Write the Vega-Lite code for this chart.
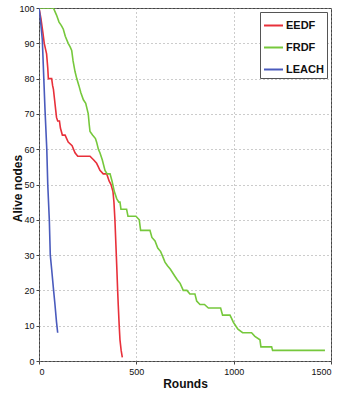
{
  "$schema": "https://vega.github.io/schema/vega-lite/v6.json",
  "autosize": "none",
  "padding": {"left": 39, "top": 8, "right": 7, "bottom": 34},
  "width": 292,
  "height": 353,
  "background": "white",
  "config": {
    "view": {"stroke": "#444", "strokeWidth": 1},
    "axis": {
      "grid": true,
      "gridDash": [1, 3],
      "gridColor": "#999",
      "gridOpacity": 1,
      "domain": false,
      "tickColor": "#444",
      "tickSize": 3,
      "labelFont": "Liberation Sans",
      "labelFontSize": 9,
      "labelColor": "#111",
      "titleFont": "Liberation Sans",
      "titleFontWeight": "bold",
      "titleFontSize": 12,
      "titleColor": "#111"
    },
    "legend": {
      "orient": "top-right",
      "offset": 4,
      "strokeColor": "#555",
      "fillColor": "white",
      "padding": 3,
      "symbolType": "stroke",
      "symbolSize": 360,
      "symbolStrokeWidth": 2,
      "labelFont": "Liberation Sans",
      "labelFontSize": 11,
      "labelFontWeight": "bold",
      "labelColor": "#111",
      "labelOffset": 2,
      "rowPadding": 6
    }
  },
  "data": {
    "values": [
      {"s": "EEDF", "r": 0, "n": 100}, {"s": "EEDF", "r": 10, "n": 97}, {"s": "EEDF", "r": 20, "n": 93},
      {"s": "EEDF", "r": 27, "n": 90}, {"s": "EEDF", "r": 35, "n": 88}, {"s": "EEDF", "r": 39, "n": 87},
      {"s": "EEDF", "r": 45, "n": 83}, {"s": "EEDF", "r": 48, "n": 80}, {"s": "EEDF", "r": 65, "n": 80},
      {"s": "EEDF", "r": 70, "n": 78}, {"s": "EEDF", "r": 74, "n": 77}, {"s": "EEDF", "r": 80, "n": 74},
      {"s": "EEDF", "r": 86, "n": 71}, {"s": "EEDF", "r": 90, "n": 69}, {"s": "EEDF", "r": 96, "n": 68},
      {"s": "EEDF", "r": 105, "n": 68}, {"s": "EEDF", "r": 110, "n": 66}, {"s": "EEDF", "r": 120, "n": 64},
      {"s": "EEDF", "r": 134, "n": 64}, {"s": "EEDF", "r": 150, "n": 62}, {"s": "EEDF", "r": 170, "n": 61},
      {"s": "EEDF", "r": 185, "n": 59}, {"s": "EEDF", "r": 199, "n": 58}, {"s": "EEDF", "r": 262, "n": 58},
      {"s": "EEDF", "r": 280, "n": 57}, {"s": "EEDF", "r": 296, "n": 56}, {"s": "EEDF", "r": 305, "n": 55},
      {"s": "EEDF", "r": 313, "n": 54}, {"s": "EEDF", "r": 330, "n": 53}, {"s": "EEDF", "r": 348, "n": 53},
      {"s": "EEDF", "r": 360, "n": 51}, {"s": "EEDF", "r": 370, "n": 50}, {"s": "EEDF", "r": 380, "n": 48},
      {"s": "EEDF", "r": 385, "n": 45}, {"s": "EEDF", "r": 390, "n": 40}, {"s": "EEDF", "r": 395, "n": 33},
      {"s": "EEDF", "r": 400, "n": 26}, {"s": "EEDF", "r": 404, "n": 20}, {"s": "EEDF", "r": 407, "n": 16},
      {"s": "EEDF", "r": 412, "n": 10}, {"s": "EEDF", "r": 416, "n": 6}, {"s": "EEDF", "r": 422, "n": 3},
      {"s": "EEDF", "r": 428, "n": 1},
      {"s": "FRDF", "r": 0, "n": 100}, {"s": "FRDF", "r": 74, "n": 100}, {"s": "FRDF", "r": 90, "n": 98},
      {"s": "FRDF", "r": 103, "n": 96}, {"s": "FRDF", "r": 115, "n": 95}, {"s": "FRDF", "r": 125, "n": 94},
      {"s": "FRDF", "r": 135, "n": 92}, {"s": "FRDF", "r": 150, "n": 90}, {"s": "FRDF", "r": 160, "n": 89},
      {"s": "FRDF", "r": 168, "n": 88}, {"s": "FRDF", "r": 175, "n": 85}, {"s": "FRDF", "r": 185, "n": 82},
      {"s": "FRDF", "r": 194, "n": 80}, {"s": "FRDF", "r": 205, "n": 78}, {"s": "FRDF", "r": 215, "n": 76},
      {"s": "FRDF", "r": 228, "n": 74}, {"s": "FRDF", "r": 240, "n": 73}, {"s": "FRDF", "r": 253, "n": 70},
      {"s": "FRDF", "r": 258, "n": 67}, {"s": "FRDF", "r": 262, "n": 65}, {"s": "FRDF", "r": 275, "n": 64},
      {"s": "FRDF", "r": 290, "n": 63}, {"s": "FRDF", "r": 296, "n": 62}, {"s": "FRDF", "r": 305, "n": 60},
      {"s": "FRDF", "r": 313, "n": 59}, {"s": "FRDF", "r": 325, "n": 57}, {"s": "FRDF", "r": 339, "n": 54},
      {"s": "FRDF", "r": 350, "n": 53}, {"s": "FRDF", "r": 365, "n": 53}, {"s": "FRDF", "r": 375, "n": 51},
      {"s": "FRDF", "r": 387, "n": 48}, {"s": "FRDF", "r": 399, "n": 46}, {"s": "FRDF", "r": 410, "n": 45},
      {"s": "FRDF", "r": 416, "n": 45}, {"s": "FRDF", "r": 421, "n": 43}, {"s": "FRDF", "r": 450, "n": 43},
      {"s": "FRDF", "r": 457, "n": 41}, {"s": "FRDF", "r": 498, "n": 41}, {"s": "FRDF", "r": 515, "n": 40},
      {"s": "FRDF", "r": 522, "n": 37}, {"s": "FRDF", "r": 570, "n": 37}, {"s": "FRDF", "r": 580, "n": 35},
      {"s": "FRDF", "r": 596, "n": 34}, {"s": "FRDF", "r": 610, "n": 32}, {"s": "FRDF", "r": 625, "n": 31},
      {"s": "FRDF", "r": 640, "n": 29}, {"s": "FRDF", "r": 647, "n": 28}, {"s": "FRDF", "r": 660, "n": 27},
      {"s": "FRDF", "r": 675, "n": 26}, {"s": "FRDF", "r": 698, "n": 24}, {"s": "FRDF", "r": 710, "n": 23},
      {"s": "FRDF", "r": 725, "n": 22}, {"s": "FRDF", "r": 741, "n": 20}, {"s": "FRDF", "r": 760, "n": 20},
      {"s": "FRDF", "r": 775, "n": 19}, {"s": "FRDF", "r": 801, "n": 19}, {"s": "FRDF", "r": 810, "n": 17},
      {"s": "FRDF", "r": 827, "n": 16}, {"s": "FRDF", "r": 850, "n": 16}, {"s": "FRDF", "r": 870, "n": 15},
      {"s": "FRDF", "r": 933, "n": 15}, {"s": "FRDF", "r": 943, "n": 13}, {"s": "FRDF", "r": 981, "n": 13},
      {"s": "FRDF", "r": 990, "n": 12}, {"s": "FRDF", "r": 998, "n": 11}, {"s": "FRDF", "r": 1010, "n": 10},
      {"s": "FRDF", "r": 1022, "n": 9}, {"s": "FRDF", "r": 1046, "n": 8}, {"s": "FRDF", "r": 1092, "n": 8},
      {"s": "FRDF", "r": 1109, "n": 7}, {"s": "FRDF", "r": 1135, "n": 6}, {"s": "FRDF", "r": 1140, "n": 4},
      {"s": "FRDF", "r": 1195, "n": 4}, {"s": "FRDF", "r": 1200, "n": 3}, {"s": "FRDF", "r": 1469, "n": 3},
      {"s": "LEACH", "r": 0, "n": 100}, {"s": "LEACH", "r": 5, "n": 98}, {"s": "LEACH", "r": 17, "n": 91},
      {"s": "LEACH", "r": 31, "n": 71}, {"s": "LEACH", "r": 40, "n": 60}, {"s": "LEACH", "r": 45, "n": 50},
      {"s": "LEACH", "r": 53, "n": 40}, {"s": "LEACH", "r": 58, "n": 30}, {"s": "LEACH", "r": 65, "n": 26},
      {"s": "LEACH", "r": 75, "n": 20}, {"s": "LEACH", "r": 82, "n": 16}, {"s": "LEACH", "r": 90, "n": 11},
      {"s": "LEACH", "r": 96, "n": 8}
    ]
  },
  "mark": {"type": "line", "strokeWidth": 1.6, "clip": true},
  "encoding": {
    "x": {
      "field": "r", "type": "quantitative", "title": "Rounds",
      "scale": {"domain": [0, 1500], "nice": false, "zero": false},
      "axis": {"values": [0, 500, 1000, 1500], "format": "d", "titlePadding": 2, "labelPadding": 3}
    },
    "y": {
      "field": "n", "type": "quantitative", "title": "Alive nodes",
      "scale": {"domain": [0, 100], "nice": false},
      "axis": {"values": [0, 10, 20, 30, 40, 50, 60, 70, 80, 90, 100], "format": "d", "titleX": -15, "titleY": 180, "labelPadding": 2}
    },
    "color": {
      "field": "s", "type": "nominal", "title": null,
      "scale": {"domain": ["EEDF", "FRDF", "LEACH"], "range": ["#e8303a", "#76c83c", "#4a5bbd"]}
    },
    "order": {"field": "r", "type": "quantitative"}
  }
}
